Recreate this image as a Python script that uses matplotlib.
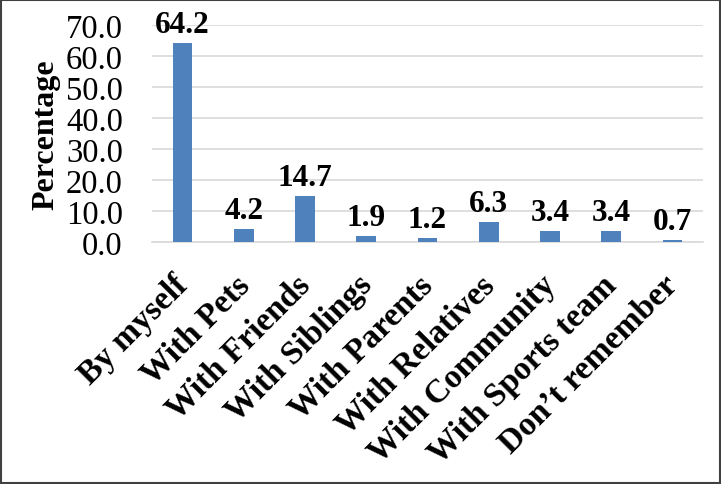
import matplotlib.pyplot as plt
from matplotlib.patches import Rectangle
from matplotlib.transforms import ScaledTranslation
import numpy as np

categories = ["By myself", "With Pets", "With Friends", "With Siblings",
              "With Parents", "With Relatives", "With Community",
              "With Sports team", "Don\u2019t remember"]
values = [64.2, 4.2, 14.7, 1.9, 1.2, 6.3, 3.4, 3.4, 0.7]

plt.rcParams['font.family'] = ['Liberation Serif', 'DejaVu Serif']

fig = plt.figure(figsize=(7.21, 4.85), dpi=100)
ax = fig.add_axes([152 / 721, 1 - 243 / 485, 551 / 721, 217 / 485])

x = np.arange(len(categories))
ax.bar(x, values, width=0.32, color="#4f81bd", zorder=3)
for xi, v in zip(x, values):
    ax.annotate(f"{v:.1f}", (xi, v), xytext=(0, 3), textcoords="offset points",
                ha="center", va="bottom", fontsize=22.5, fontweight="bold",
                annotation_clip=False)

ax.set_xlim(-0.5, len(categories) - 0.5)
ax.set_ylim(0, 70)
ticks = np.arange(0, 71, 10)
ax.set_yticks(ticks)
ax.set_yticklabels([f"{t:.1f}" for t in ticks], fontsize=23.5)
ax.set_xticks(x)
ax.set_xticklabels([])

# category labels, rotated like the original (top-right corner near the tick)
label_tr = ax.get_xaxis_transform() + ScaledTranslation(-0.10, -0.27, fig.dpi_scale_trans)
for xi, cat in zip(x, categories):
    ax.text(xi, 0, cat, transform=label_tr, rotation=45, rotation_mode="anchor",
            ha="right", va="top", fontsize=24, fontweight="bold", clip_on=False)

ax.tick_params(axis="x", length=0)
ax.tick_params(axis="y", length=0, pad=21)
ax.grid(axis="y", color="#d9d9d9", linewidth=1.2, zorder=0)
for side in ["top", "right", "left"]:
    ax.spines[side].set_visible(False)
ax.spines["bottom"].set_color("#d9d9d9")
ax.spines["bottom"].set_linewidth(1.2)
ax.set_ylabel("Percentage", fontsize=23, fontweight="bold", labelpad=4)

fig.patches.append(Rectangle((0.002, 0.003), 0.996, 0.994, transform=fig.transFigure,
                             fill=False, edgecolor="#404040", linewidth=1.5))

fig.savefig("out.png", dpi=100)
